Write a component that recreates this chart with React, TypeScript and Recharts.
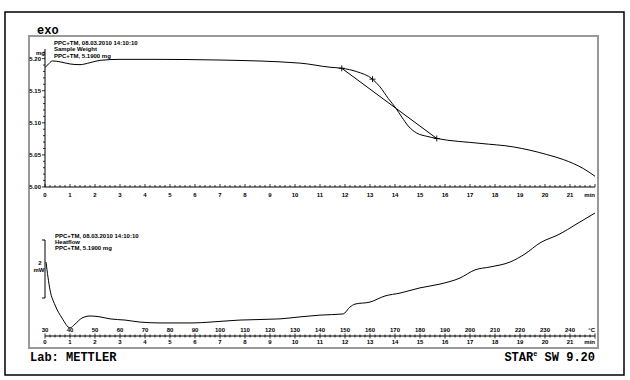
import React from 'react';
import { ComposedChart, Line, XAxis, YAxis, Scatter, ReferenceLine } from 'recharts';

// ---- Data ----
const weightTime = [0, 0.1, 0.3, 0.6, 1.0, 1.4, 1.8, 2.2, 3.0, 4.2, 7.0, 10.2, 11.4, 11.87, 12.47, 13.1, 13.4, 13.73, 14.04, 14.27, 14.53, 14.87, 15.27, 15.67, 17.4, 18.73, 19.4, 20.07, 20.73, 21.13, 21.53, 22.0];
const weightMg = [5.186, 5.19, 5.1964, 5.195, 5.1917, 5.1906, 5.1937, 5.1973, 5.1989, 5.1989, 5.1978, 5.193, 5.1866, 5.185, 5.1797, 5.168, 5.156, 5.138, 5.1225, 5.109, 5.095, 5.084, 5.079, 5.0756, 5.068, 5.0625, 5.0573, 5.0506, 5.0428, 5.0366, 5.0288, 5.0167];

const stepTime = [11.87, 15.67];
const stepMg = [5.185, 5.0756];
const markerTime = [11.87, 13.1, 15.67];
const markerMg = [5.185, 5.168, 5.0756];

const heatTime = [0.04, 0.2, 0.4, 0.68, 1.0, 1.2, 1.48, 1.8, 2.2, 2.6, 3.2, 3.8, 4.6, 5.2, 5.92, 6.6, 7.8, 9.4, 10.2, 11.0, 11.92, 12.2, 12.4, 13.0, 13.6, 14.2, 15.0, 15.8, 16.6, 17.2, 17.8, 18.6, 19.2, 19.8, 20.6, 21.2, 22.0];
const heatMW = [2.55, 1.59, 1.07, 0.62, 0.28, 0.41, 0.62, 0.69, 0.66, 0.59, 0.55, 0.48, 0.45, 0.45, 0.45, 0.48, 0.55, 0.59, 0.66, 0.72, 0.76, 1.0, 1.1, 1.17, 1.38, 1.48, 1.66, 1.79, 2.0, 2.28, 2.38, 2.55, 2.83, 3.21, 3.52, 3.83, 4.24];

const minuteLabels = ['0', '1', '2', '3', '4', '5', '6', '7', '8', '9', '10', '11', '12', '13', '14', '15', '16', '17', '18', '19', '20', '21'];
const tempLabels = ['30', '40', '50', '60', '70', '80', '90', '100', '110', '120', '130', '140', '150', '160', '170', '180', '190', '200', '210', '220', '230', '240'];
const weightTickLabels = ['5.00', '5.05', '5.10', '5.15', '5.20'];

const xTicks = Array.from({ length: 111 }, (_, i) => i / 5);
const yTicks = Array.from({ length: 22 }, (_, i) => (500 + i) / 100);

const weightData = weightTime.map((t, i) => ({ t, v: weightMg[i] }));
const stepData = stepTime.map((t, i) => ({ t, v: stepMg[i] }));
const markerData = markerTime.map((t, i) => ({ t, v: markerMg[i] }));
const heatData = heatTime.map((t, i) => ({ t, v: heatMW[i] }));

const tickFont = { fontFamily: 'Liberation Sans, Arial, sans-serif', fontWeight: 700, fontSize: 6 } as const;
const monoFont = { fontFamily: 'Liberation Mono, Courier New, monospace', fontWeight: 700 } as const;

const isMajor = (v: number) => Math.abs(v - Math.round(v)) < 1e-6;

const TopXTick = (props: any) => {
  const { x, y, payload } = props;
  const v = payload.value as number;
  const major = isMajor(v);
  const idx = Math.round(v);
  return (
    <g>
      <line x1={x} x2={x} y1={y} y2={y - (major ? 3 : 2)} stroke="#000" strokeWidth={0.8} />
      {major && idx < minuteLabels.length && (
        <text x={x} y={y + 10} textAnchor="middle" {...tickFont} fill="#000">{minuteLabels[idx]}</text>
      )}
      {major && idx === 22 && (
        <text x={x} y={y + 10} textAnchor="end" {...tickFont} fill="#000">min</text>
      )}
    </g>
  );
};

const TopYTick = (props: any) => {
  const { x, y, payload } = props;
  const v = payload.value as number;
  const k = Math.round(v * 100) - 500;
  const major = k % 5 === 0;
  return (
    <g>
      <line x1={x} x2={x - (major ? 3 : 2)} y1={y} y2={y} stroke="#000" strokeWidth={0.8} />
      {major && (
        <text x={x - 4} y={y + 2} textAnchor="end" {...tickFont} fill="#000">{weightTickLabels[k / 5]}</text>
      )}
    </g>
  );
};

const BottomXTick = (props: any) => {
  const { x, y, payload } = props;
  const v = payload.value as number;
  const major = isMajor(v);
  const idx = Math.round(v);
  return (
    <g>
      <line x1={x} x2={x} y1={y - (major ? 2.5 : 1.5)} y2={y + (major ? 2.5 : 1.5)} stroke="#000" strokeWidth={0.8} />
      {major && idx < tempLabels.length && (
        <>
          <text x={x} y={y - 4} textAnchor="middle" {...tickFont} fill="#000">{tempLabels[idx]}</text>
          <text x={x} y={y + 8} textAnchor="middle" {...tickFont} fill="#000">{minuteLabels[idx]}</text>
        </>
      )}
      {major && idx === 22 && (
        <>
          <text x={x} y={y - 4} textAnchor="end" {...tickFont} fill="#000">°C</text>
          <text x={x} y={y + 8} textAnchor="end" {...tickFont} fill="#000">min</text>
        </>
      )}
    </g>
  );
};

const Cross = (props: any) => {
  const { cx, cy } = props;
  if (cx == null || cy == null) return <g />;
  return (
    <g stroke="#000" strokeWidth={0.9}>
      <line x1={cx - 3} x2={cx + 3} y1={cy} y2={cy} />
      <line x1={cx} x2={cx} y1={cy - 3} y2={cy + 3} />
    </g>
  );
};

export default function App() {
  return (
    <div style={{ position: 'absolute', left: 0, top: 0, width: 630, height: 380, background: '#fff', overflow: 'hidden' }}>
      <svg width={630} height={380} style={{ position: 'absolute', left: 0, top: 0 }}>
        <rect x={5} y={12} width={619} height={363} fill="none" stroke="#000" strokeWidth={1.5} />
        <rect x={29} y={36} width={569} height={312} fill="none" stroke="#999" strokeWidth={2} />
      </svg>

      <div style={{ position: 'absolute', left: 0, top: 0 }}>
        <ComposedChart width={630} height={380} margin={{ top: 49, right: 35, bottom: 178, left: 0 }}>
          <XAxis dataKey="t" type="number" domain={[0, 22]} ticks={xTicks} interval={0} height={15}
            tick={<TopXTick />} tickLine={false} tickSize={0} tickMargin={0} axisLine={{ stroke: '#000', strokeWidth: 1 }} allowDataOverflow />
          <YAxis dataKey="v" type="number" domain={[5.0, 5.215]} ticks={yTicks} interval={0} width={45}
            tick={<TopYTick />} tickLine={false} tickSize={0} tickMargin={0} axisLine={{ stroke: '#000', strokeWidth: 1 }} allowDataOverflow />
          <Line data={weightData} dataKey="v" type="monotone" stroke="#000" strokeWidth={1} dot={false} isAnimationActive={false} />
          <Line data={stepData} dataKey="v" type="linear" stroke="#000" strokeWidth={1} dot={false} isAnimationActive={false} />
          <Scatter data={markerData} dataKey="v" shape={<Cross />} isAnimationActive={false} />
        </ComposedChart>
      </div>

      <div style={{ position: 'absolute', left: 0, top: 0 }}>
        <ComposedChart width={630} height={380} margin={{ top: 191, right: 35, bottom: 30, left: 45 }}>
          <XAxis dataKey="t" type="number" domain={[0, 22]} ticks={xTicks} interval={0} height={14}
            tick={<BottomXTick />} tickLine={false} tickSize={0} tickMargin={0} axisLine={{ stroke: '#000', strokeWidth: 1 }} allowDataOverflow />
          <YAxis dataKey="v" type="number" domain={[0, 5]} hide allowDataOverflow />
          <ReferenceLine segment={[{ x: 0, y: 1.31 }, { x: 0, y: 3.31 }]} stroke="#000" strokeWidth={1} ifOverflow="visible" />
          <ReferenceLine segment={[{ x: -0.12, y: 3.31 }, { x: 0, y: 3.31 }]} stroke="#000" strokeWidth={1} ifOverflow="visible" />
          <ReferenceLine segment={[{ x: -0.12, y: 1.31 }, { x: 0, y: 1.31 }]} stroke="#000" strokeWidth={1} ifOverflow="visible" />
          <Line data={heatData} dataKey="v" type="monotone" stroke="#000" strokeWidth={1} dot={false} isAnimationActive={false} />
        </ComposedChart>
      </div>

      <svg width={630} height={380} style={{ position: 'absolute', left: 0, top: 0, pointerEvents: 'none' }}>
        <text x={37} y={34} fontSize={12} {...monoFont} fill="#000">exo</text>
        <text x={45} y={55} textAnchor="end" {...tickFont} fill="#000">mg</text>
        <text x={54} y={45} {...tickFont} fill="#000">PPC+TM, 08.03.2010 14:10:10</text>
        <text x={54} y={51} {...tickFont} fill="#000">Sample Weight</text>
        <text x={54} y={58} {...tickFont} fill="#000">PPC+TM, 5.1900 mg</text>
        <text x={55} y={238} {...tickFont} fill="#000">PPC+TM, 08.03.2010 14:10:10</text>
        <text x={55} y={243.5} {...tickFont} fill="#000">Heatflow</text>
        <text x={55} y={250} {...tickFont} fill="#000">PPC+TM, 5.1900 mg</text>
        <text x={40} y={265} textAnchor="middle" {...tickFont} fill="#000">2</text>
        <text x={39} y={272} textAnchor="middle" {...tickFont} fill="#000">mW</text>
        <text x={30} y={361} fontSize={12} {...monoFont} fill="#000">Lab: METTLER</text>
        <text x={595} y={361} textAnchor="end" fontSize={12} {...monoFont} fill="#000">
          STAR<tspan fontSize={7} dy={-5}>e</tspan><tspan dy={5}> SW 9.20</tspan>
        </text>
      </svg>
    </div>
  );
}
